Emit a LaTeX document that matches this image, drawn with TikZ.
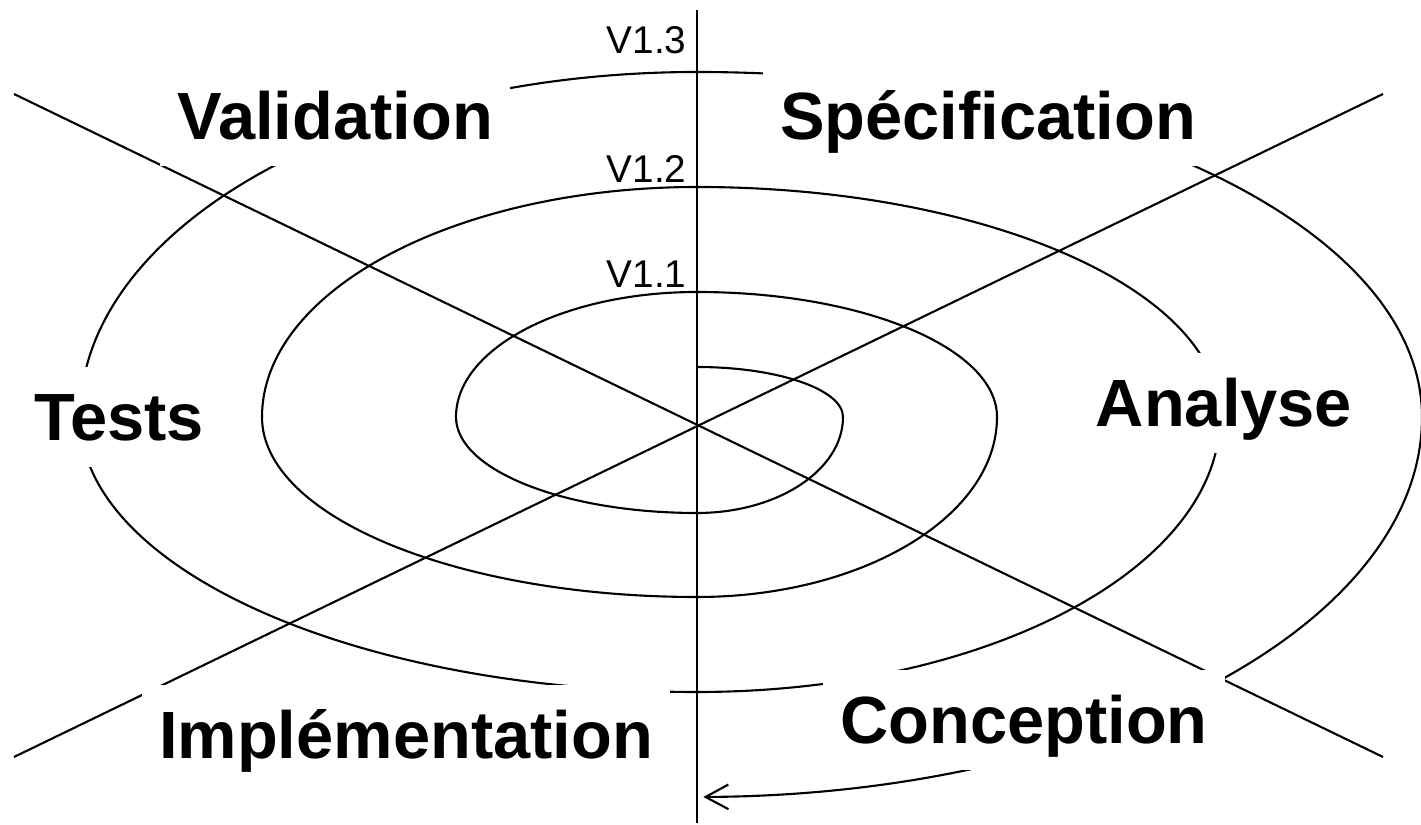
\documentclass[tikz,border=0pt]{standalone}
\usepackage{fontspec}
\setmainfont{Liberation Sans}
\usetikzlibrary{arrows.meta}

\begin{document}
\begin{tikzpicture}[
  x=0.01cm, y=-0.01cm,
  phase/.style={fill=white, inner xsep=5pt, inner ysep=0pt, minimum height=1cm,
                text height=13.6pt, text depth=0pt,
                font=\fontsize{19}{22}\selectfont\bfseries},
  ver/.style={anchor=base east, inner sep=0pt, font=\fontsize{11}{13}\selectfont},
  trait/.style={line width=0.6pt},
  spir/.style={trait, -{Straight Barb[length=6.5pt, width=7pt]}}
]
  \useasboundingbox (0,0) rectangle (1421,825);

  % axes
  \coordinate (haut) at (697,10);
  \coordinate (bas)  at (697,823);
  \coordinate (no)   at (14,94);
  \coordinate (se)   at (1383,757);
  \coordinate (so)   at (14,757);
  \coordinate (ne)   at (1383,94);
  \draw[trait] (haut) -- (bas);
  \draw[trait] (no) -- (se);
  \draw[trait] (so) -- (ne);

  % spirale
  \draw[spir] (697,367)
    arc[start angle=-90, end angle=0,    x radius=146, y radius=50]
    arc[start angle=0,   end angle=90,   x radius=146, y radius=96]
    arc[start angle=90,  end angle=180,  x radius=241, y radius=96]
    arc[start angle=180, end angle=270,  x radius=241, y radius=125]
    arc[start angle=-90, end angle=0,    x radius=300, y radius=125]
    arc[start angle=0,   end angle=90,   x radius=300, y radius=180]
    arc[start angle=90,  end angle=180,  x radius=435, y radius=180]
    arc[start angle=180, end angle=270,  x radius=435, y radius=230]
    arc[start angle=-90, end angle=0,    x radius=523, y radius=230]
    arc[start angle=0,   end angle=90,   x radius=523, y radius=275]
    arc[start angle=90,  end angle=180,  x radius=617, y radius=275]
    arc[start angle=180, end angle=270,  x radius=617, y radius=345]
    arc[start angle=-90, end angle=0,    x radius=725, y radius=345]
    arc[start angle=0,   end angle=89.5, x radius=725, y radius=380];

  % versions
  \node[ver] (v11) at (687,288) {V1.1};
  \node[ver] (v12) at (687,183) {V1.2};
  \node[ver] (v13) at (687,54)  {V1.3};

  % phases
  \node[phase] (valid) at (335,116)  {Validation};
  \node[phase] (spec)  at (988,116)  {Spécification};
  \node[phase] (tests) at (119,417)  {Tests};
  \node[phase] (anal)  at (1224,403) {Analyse};
  \node[phase] (impl)  at (406,735)  {Implémentation};
  \node[phase] (conc)  at (1024,720) {Conception};
\end{tikzpicture}
\end{document}
